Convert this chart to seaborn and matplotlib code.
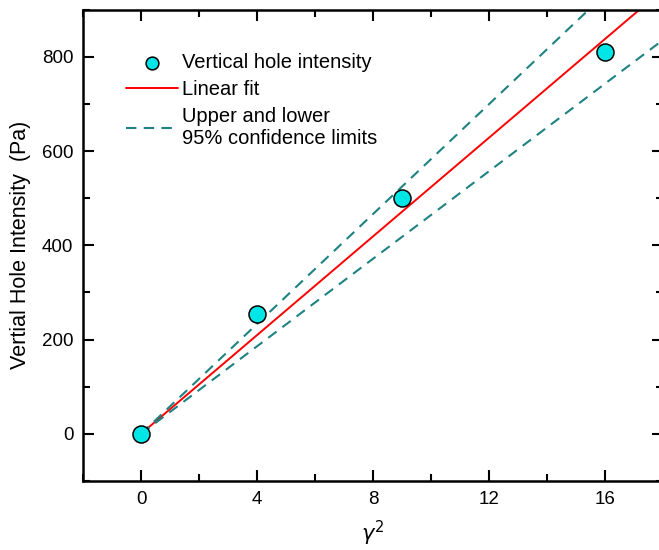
import numpy as np
import pandas as pd
import matplotlib
matplotlib.use("Agg")
import matplotlib.pyplot as plt
from matplotlib.ticker import MultipleLocator
import seaborn as sns

# data
gamma_sq = [0, 4, 9, 16]
intensity = [0, 255, 500, 810]
T_95_DF3 = 3.182  # two-sided 95% t value, 3 dof (fit through origin, n=4)

sns.set_theme(style="ticks")
plt.rcParams["font.family"] = ["Liberation Sans", "DejaVu Sans"]
plt.rcParams["text.color"] = "black"
plt.rcParams["axes.labelcolor"] = "black"

x = np.array(gamma_sq, dtype=float)
y = np.array(intensity, dtype=float)

# linear fit through origin + 95% limits on slope
slope = (x * y).sum() / (x * x).sum()
resid = y - slope * x
s = np.sqrt((resid ** 2).sum() / (len(x) - 1))
se = s / np.sqrt((x * x).sum())
xs = np.array([0.0, 18.0])
fit = pd.DataFrame({"x": xs, "fit": slope * xs,
                    "upper": (slope + T_95_DF3 * se) * xs,
                    "lower": (slope - T_95_DF3 * se) * xs})

fig = plt.figure(figsize=(6.59, 5.5), dpi=100)
ax = fig.add_axes([0.126, 0.1255, 0.88, 0.857])

dash = (0, (5, 3.5))
sns.lineplot(data=fit, x="x", y="fit", ax=ax, color="#ff0000", lw=1.4,
             label="Linear fit", zorder=2)
sns.lineplot(data=fit, x="x", y="upper", ax=ax, color="#1f8282", lw=1.5,
             ls=dash, label="Upper and lower\n95% confidence limits", zorder=2)
sns.lineplot(data=fit, x="x", y="lower", ax=ax, color="#1f8282", lw=1.5,
             ls=dash, zorder=2)
sns.scatterplot(x=gamma_sq, y=intensity, ax=ax, s=150, color="#00e6e6",
                edgecolor="black", linewidth=1.1, label="Vertical hole intensity",
                zorder=3)

ax.set_xlim(-2, 18)
ax.set_ylim(-100, 900)
ax.xaxis.set_major_locator(MultipleLocator(4))
ax.xaxis.set_minor_locator(MultipleLocator(2))
ax.yaxis.set_major_locator(MultipleLocator(200))
ax.yaxis.set_minor_locator(MultipleLocator(100))
ax.tick_params(which="both", direction="in", top=True, right=True,
               width=1.5, labelsize=13.5, colors="black")
ax.tick_params(which="major", length=8, pad=7)
ax.tick_params(which="minor", length=5)
for sp in ax.spines.values():
    sp.set_linewidth(1.8)
    sp.set_color("black")

ax.set_xlabel(r"$\gamma^2$", fontsize=15, labelpad=8)
ax.set_ylabel("Vertial Hole Intensity  (Pa)", fontsize=15.5, labelpad=8)

h, l = ax.get_legend_handles_labels()
order = [2, 0, 1]
ax.legend([h[i] for i in order], [l[i] for i in order], loc="upper left",
          bbox_to_anchor=(0.06, 0.925), frameon=False, fontsize=14.5,
          handlelength=2.6, handletextpad=0.2, labelspacing=0.4,
          borderaxespad=0, markerscale=0.75)

fig.savefig("out.png", dpi=100)
